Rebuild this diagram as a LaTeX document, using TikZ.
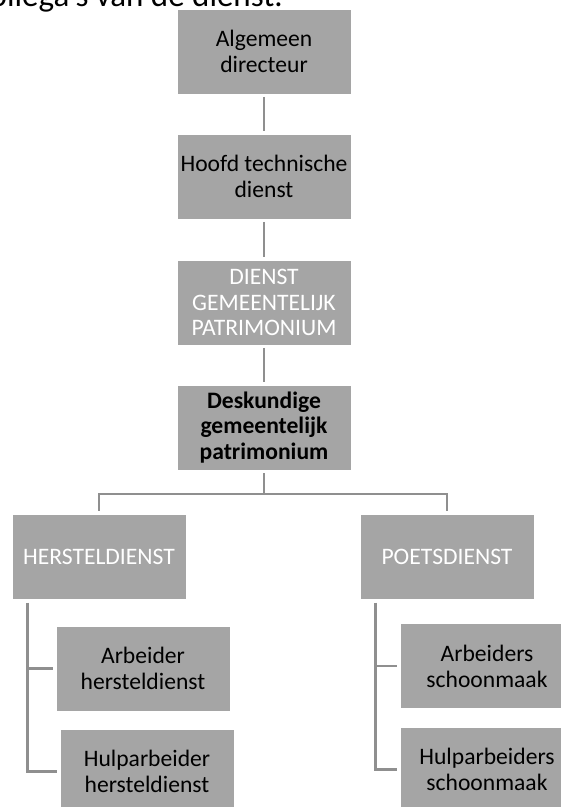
\documentclass[tikz,border=0pt]{standalone}
\usepackage{fontspec}
\setmainfont{Carlito}
\usetikzlibrary{calc}
\definecolor{boxgray}{HTML}{A5A5A5}
\definecolor{linegray}{HTML}{8F8F8F}
\begin{document}
\begin{tikzpicture}[x=1pt,y=-1pt,
  box/.style={draw=white, line width=0.8pt, fill=boxgray, minimum width=174pt, minimum height=85pt,
    inner sep=0pt, align=center, font=\fontsize{23.6}{25.8}\selectfont, text=black},
  wbox/.style={box, text=white},
  conn/.style={draw=linegray, line width=2.8pt}]
\useasboundingbox (0,0) rectangle (561,807);
\clip (0,0) rectangle (561,807);
% partial text line at top (cut off by the page edge, as in the reference)
\node[anchor=base east, inner sep=0pt, font=\fontsize{33}{36}\selectfont] (title) at (283,6.5) {collega's van de dienst.};
% boxes
\node[box] (A) at (264,51.5) {Algemeen\\directeur};
\node[box] (B) at (264,176.5) {Hoofd technische\\dienst};
\node[wbox] (C) at (264,302.5) {DIENST\\GEMEENTELIJK\\PATRIMONIUM};
\node[box, font=\fontsize{23.6}{25.8}\selectfont\bfseries] (D) at (264,427.5) {Deskundige\\gemeentelijk\\patrimonium};
\node[wbox] (H) at (99,557) {HERSTELDIENST};
\node[wbox] (P) at (447,557) {POETSDIENST};
\node[box] (H1) at (143,668.5) {Arbeider\\hersteldienst};
\node[box] (H2) at (147,771.5) {Hulparbeider\\hersteldienst};
\node[box] (P1) at (487,666) {Arbeiders\\schoonmaak};
\node[box] (P2) at (487,769.5) {Hulparbeiders\\schoonmaak};
% connectors
\draw[conn, shorten <=2.5pt, shorten >=2.5pt] (A.south) -- (B.north);
\draw[conn, shorten <=2.5pt, shorten >=2.5pt] (B.south) -- (C.north);
\draw[conn, shorten <=2.5pt, shorten >=2.5pt] (C.south) -- (D.north);
\coordinate (bar) at (264,494);
\draw[conn, shorten <=3pt] (D.south) -- (bar);
\draw[conn, shorten >=3pt] (bar) -| (H.north);
\draw[conn, shorten >=3pt] (bar) -| (P.north);
\coordinate (htop) at ($(H.south west)+(16,3)$);
\coordinate (ptop) at ($(P.south west)+(16,3)$);
\draw[conn, shorten >=3pt] (htop) |- (H1.west);
\draw[conn, shorten >=3pt] (htop) |- (H2.west);
\draw[conn, shorten >=3pt] (ptop) |- (P1.west);
\draw[conn, shorten >=3pt] (ptop) |- (P2.west);
\end{tikzpicture}
\end{document}
